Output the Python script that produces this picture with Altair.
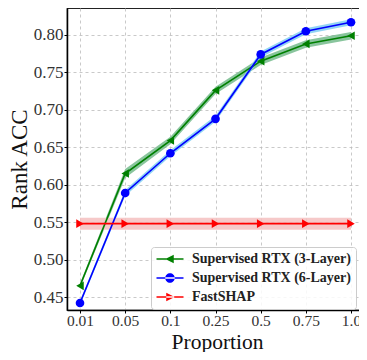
import altair as alt
import pandas as pd

proportions = ["0.01", "0.05", "0.1", "0.25", "0.5", "0.75", "1.0"]
series_names = ["Supervised RTX (3-Layer)", "Supervised RTX (6-Layer)", "FastSHAP"]
rtx3_mean = [0.465, 0.615, 0.659, 0.726, 0.765, 0.788, 0.799]
rtx3_err = [0.003, 0.006, 0.005, 0.005, 0.005, 0.005, 0.005]
rtx6_mean = [0.442, 0.589, 0.642, 0.688, 0.774, 0.805, 0.817]
rtx6_err = [0.003, 0.004, 0.004, 0.004, 0.004, 0.004, 0.004]
fastshap_mean = [0.548, 0.548, 0.548, 0.548, 0.548, 0.548, 0.548]
fastshap_err = [0.008, 0.008, 0.008, 0.008, 0.008, 0.008, 0.008]

line_colors = ["#008000", "#0000ff", "#ff0000"]
band_colors = ["#74bb8c", "#7fcdf2", "#f5c0c0"]
marker_shapes = ["triangle-left", "circle", "triangle-right"]
legend_shapes = [
    "M-2.7,-0.17H2.7V0.17H-2.7Z M-0.95,0L0.75,-0.85L0.75,0.85Z",
    "M-2.7,-0.17H2.7V0.17H-2.7Z M-0.95,0A0.95,0.95 0 1,0 0.95,0A0.95,0.95 0 1,0 -0.95,0Z",
    "M-2.7,-0.17H2.7V0.17H-2.7Z M0.95,0L-0.75,-0.85L-0.75,0.85Z",
]

rows = []
for name, means, errs in zip(series_names, [rtx3_mean, rtx6_mean, fastshap_mean],
                             [rtx3_err, rtx6_err, fastshap_err]):
    for i, (m, e) in enumerate(zip(means, errs)):
        rows.append({"series": name, "idx": i, "label": proportions[i],
                     "y": m, "lo": m - e, "hi": m + e})
df = pd.DataFrame(rows)

label_expr = "[" + ",".join("'" + p + "'" for p in proportions) + "][datum.value]"

SERIF = "Liberation Serif"

x_enc = alt.X("idx:Q", scale=alt.Scale(domain=[-0.288, 6.354], nice=False, zero=False),
              axis=alt.Axis(values=list(range(len(proportions))), labelExpr=label_expr,
                            title="Proportion", grid=True, labelFont=SERIF,
                            titleFont=SERIF, labelFontSize=15.5, titleFontSize=21.5,
                            titleBaseline="alphabetic", titleY=38, labelPadding=0))
y_scale = alt.Scale(domain=[0.4327, 0.836], nice=False, zero=False)
y_enc = alt.Y("y:Q", scale=y_scale,
              axis=alt.Axis(values=[0.45, 0.5, 0.55, 0.6, 0.65, 0.7, 0.75, 0.8],
                            format=".2f", title="Rank ACC", grid=True, labelFont=SERIF,
                            titleFont=SERIF, labelFontSize=17, titleFontSize=23,
                            titlePadding=2, labelPadding=1))

color_scale = alt.Scale(domain=series_names, range=line_colors)
band_scale = alt.Scale(domain=series_names, range=band_colors)

base = alt.Chart(df)

bands = base.mark_area(opacity=0.85).encode(
    x=x_enc,
    y=alt.Y("lo:Q", scale=y_scale),
    y2="hi:Q",
    fill=alt.Fill("series:N", scale=band_scale, legend=None),
    detail="series:N",
)

lines = base.mark_line(strokeWidth=1.6).encode(
    x=x_enc, y=y_enc,
    color=alt.Color("series:N", scale=color_scale, legend=None),
    detail="series:N",
)

points = base.mark_point(filled=True, size=75, opacity=1).encode(
    x=x_enc, y=y_enc,
    color=alt.Color("series:N", scale=color_scale, legend=None),
    shape=alt.Shape("series:N", scale=alt.Scale(domain=series_names, range=marker_shapes),
                    legend=None),
)

legend_spec = alt.Legend(title=None, orient="none", legendX=84, legendY=239,
                         symbolSize=100, symbolOffset=7, labelOffset=15,
                         labelFont=SERIF, labelFontSize=14, labelLimit=0,
                         labelFontWeight="bold", labelColor="#222",
                         rowPadding=5, padding=5,
                         fillColor="rgba(255,255,255,0.85)",
                         strokeColor="#cccccc", cornerRadius=3,
                         symbolStrokeWidth=0, symbolOpacity=1)

legend_layer = base.mark_point(filled=True, opacity=1).encode(
    x=x_enc, y=y_enc,
    fill=alt.Fill("series:N", scale=alt.Scale(domain=series_names, range=line_colors),
                  legend=legend_spec),
    shape=alt.Shape("series:N", scale=alt.Scale(domain=series_names, range=legend_shapes),
                    legend=legend_spec),
).transform_filter("false")

chart = alt.layer(bands, lines, points, legend_layer).resolve_scale(
    shape="independent", fill="independent"
).properties(
    width=300, height=302,
    padding={"left": 59, "top": 0, "right": -8, "bottom": 42},
    autosize=alt.AutoSizeParams(type="none"),
).configure_view(
    stroke="#222", strokeWidth=1.2
).configure_axis(
    labelFont=SERIF, labelColor="#333",
    titleFont=SERIF, titleFontWeight="normal", titleColor="#111",
    domainColor="#000", domainWidth=1.5, tickColor="#000", tickSize=3,
    gridColor="#bbbbbb", gridDash=[3, 3], gridWidth=0.8,
)

chart.save("out.html", embed_options={"renderer": "svg", "actions": False})
